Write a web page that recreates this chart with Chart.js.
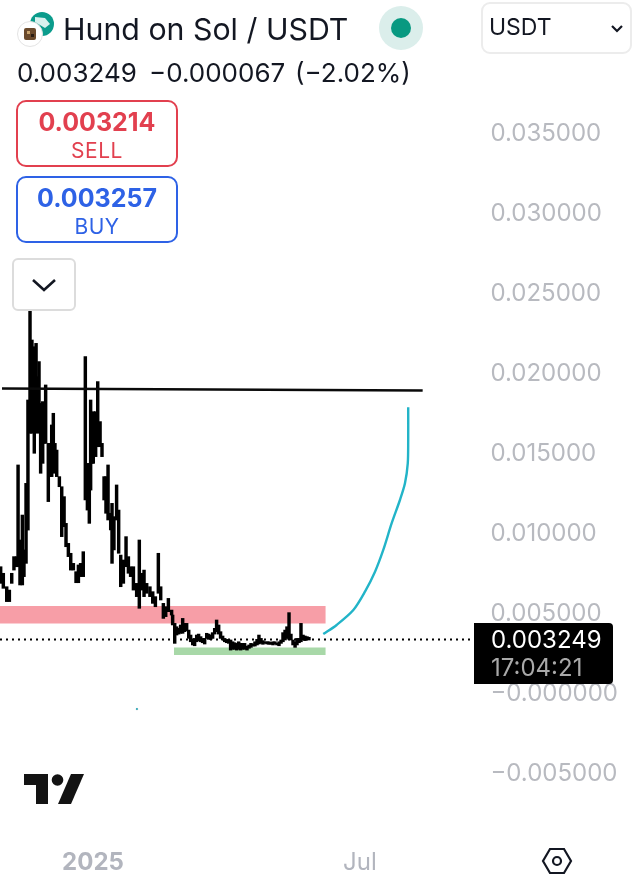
<!DOCTYPE html>
<html>
<head>
<meta charset="utf-8">
<script src="https://cdn.jsdelivr.net/npm/chart.js@4/dist/chart.umd.min.js"></script>
<style>
html,body{margin:0;padding:0;background:#fff;width:640px;height:876px;overflow:hidden}
body{position:relative;font-family:Inter,"Liberation Sans",sans-serif;color:#131722}
canvas{position:absolute;left:0;top:0}
.a{position:absolute;white-space:nowrap}
.tb{position:absolute;left:16px;width:158px;height:63px;border:2px solid;border-radius:10px;text-align:center;background:#fff}
.tb b{position:absolute;left:0;right:0;top:5px;font-size:25px;font-weight:700;line-height:30px}
.tb span{position:absolute;left:0;right:0;top:36px;font-size:21px;line-height:26px;letter-spacing:.5px}
</style>
</head>
<body>
<canvas id="c" width="640" height="876"></canvas>

<svg class="a" style="left:16px;top:8px" width="44" height="40" viewBox="0 0 44 40">
  <circle cx="26" cy="16" r="12" fill="#0b9c8c"/>
  <path d="M19 9l10 1 5 6-5 4-10-6z" fill="#d8f1ee"/>
  <circle cx="14" cy="26" r="12.5" fill="#fff" stroke="#e3e3e3"/>
  <rect x="8" y="20" width="12" height="12" rx="2" fill="#6b4a2c"/>
  <rect x="11" y="23" width="3" height="3" fill="#caa46f"/><rect x="15" y="26" width="3" height="3" fill="#2a1c12"/>
</svg>
<div class="a" style="left:63px;top:11px;font-size:30.3px;line-height:36px;" id="title">Hund on Sol / USDT</div>
<svg class="a" style="left:379px;top:6px" width="44" height="44"><circle cx="22" cy="22" r="22" fill="#dbeeeb"/><circle cx="22" cy="22" r="10" fill="#089981"/></svg>
<div class="a" style="left:17px;top:58px;font-size:26px;line-height:30px;">0.003249</div>
<div class="a" style="left:149px;top:58px;font-size:26px;line-height:30px;">−0.000067</div>
<div class="a" style="left:295px;top:58px;font-size:26px;line-height:30px;">(−2.02%)</div>

<div class="tb" style="top:100px;border-color:#e2404f;color:#e2404f"><b>0.003214</b><span>SELL</span></div>
<div class="tb" style="top:176px;border-color:#2e62e6;color:#2e62e6"><b>0.003257</b><span>BUY</span></div>

<div class="a" style="left:12px;top:258px;width:60px;height:49px;border:2px solid #dcdcdc;border-radius:6px;background:rgba(255,255,255,.72)"></div>
<svg class="a" style="left:31px;top:277px" width="26" height="16"><path d="M2 3l11 10L24 3" fill="none" stroke="#131722" stroke-width="2.6"/></svg>

<div class="a" style="left:481px;top:2px;width:147px;height:48px;border:2px solid #ececec;border-radius:9px"></div>
<div class="a" style="left:489px;top:12px;font-size:23px;line-height:30px;">USDT</div>
<svg class="a" style="left:610px;top:24px" width="14" height="10"><path d="M2 2l5 5 5-5" fill="none" stroke="#131722" stroke-width="2.2"/></svg>

<div class="a" style="left:474px;top:623px;width:139px;height:61px;background:#000;border-radius:0 4px 4px 0"></div>
<div class="a" style="left:491px;top:625px;font-size:24px;line-height:30px;color:#fff">0.003249</div>
<div class="a" style="left:491px;top:653px;font-size:24px;line-height:30px;color:#a9a9a9">17:04:21</div>

<svg class="a" style="left:24px;top:774px" width="60" height="30" viewBox="0 0 60 30">
  <path d="M0 0h24v30H12V11H0z" fill="#131313"/><circle cx="33.5" cy="6" r="5.8" fill="#131313"/><path d="M34 30L47 0h13L47 30z" fill="#131313"/>
</svg>
<svg class="a" style="left:541px;top:847px" width="32" height="28" viewBox="0 0 32 28">
  <path d="M9 2h14l7 12-7 12H9L2 14z" fill="none" stroke="#131722" stroke-width="2.2"/><circle cx="16" cy="14" r="4" fill="none" stroke="#131722" stroke-width="2.2"/>
</svg>

<script>
const priceTicks = [-0.005, 0, 0.005, 0.01, 0.015, 0.02, 0.025, 0.03, 0.035];
const timeTicks = [0, 181];
const timeLabels = {0: '2025', 181: 'Jul'};

// days since 1 Jan 2025 for each bar
const days = [-62.6,-60.8,-58.5,-56.7,-55.1,-53.6,-51.8,-50.8,-49.5,-47.9,-46.8,-45.4,-44.1,-42.7,-41.4,-39.8,-38.6,-37.7,-36.6,-35.5,-34.1,-33.2,-32.1,-30.3,-29.2,-28,-26.9,-25.8,-24.6,-22.8,-21.2,-19.6,-18.3,-16.7,-15.1,-13.3,-11.5,-9.9,-8.4,-6.6,-5.2,-3.8,-2.5,-1.6,-0.7,0.2,1.8,3.2,4.8,6.1,7.5,8.8,10.2,12,12.9,14.2,16,17.4,18.8,20.6,22.4,24,25.5,27.4,29.6,31.4,33,34.6,36.4,38.6,40.5,42.3,44.3,45.9,47.7,49.3,51.1,53.3,
54,55.4,56.7,58.1,59.4,60.8,62.1,63.5,64.9,66.2,67.6,68.9,70.3,71.6,73,74.3,75.7,77.1,78.4,79.8,81.1,82.5,83.8,85.2,86.5,87.9,89.3,90.6,92,93.3,94.7,96,97.4,98.8,100.1,101.5,102.8,
104.4,105.8,107.1,108.5,109.8,111.2,112.5,113.9,115.2,116.6,118,119.3,120.7,122,123.4,124.7,126.1,127.5,128.8,130.2,131.5,132.9,134.2,135.6,137,138.3,139.7,141,142.4,143.7,145.1,146.4];
const highs = [0.00780,0.00739,0.00655,0.00634,0.00739,0.00843,0.00843,0.01416,0.00947,0.01103,0.00885,0.01301,0.01822,0.02384,0.02197,0.02155,0.02176,0.01968,0.02062,0.01801,0.01812,0.01780,0.01916,0.01551,0.01551,0.01666,0.01739,0.01551,0.01509,0.01343,0.01280,0.01218,0.01051,0.00926,0.00864,0.00801,0.00749,0.00791,0.00801,0.00874,0.02093,0.01426,0.01259,0.01822,0.01739,0.01749,0.01749,0.01937,0.01687,0.01551,0.01343,0.01343,0.01416,0.01114,0.01176,0.01093,0.01291,0.01134,0.00853,0.00822,0.00968,0.00843,0.00780,0.00780,0.00676,0.00947,0.00739,0.00759,0.00676,0.00655,0.00624,0.00593,0.00864,0.00655,0.00551,0.00530,0.00582,0.00509,
0.00478,0.00426,0.00405,0.00395,0.00416,0.00457,0.00426,0.00426,0.00384,0.00353,0.00326,0.00332,0.00353,0.00359,0.00343,0.00332,0.00332,0.00364,0.00359,0.00353,0.00368,0.00395,0.00447,0.00416,0.00374,0.00347,0.00332,0.00326,0.00322,0.00322,0.00311,0.00305,0.00301,0.00311,0.00301,0.00301,0.00301,
0.00284,0.00291,0.00301,0.00297,0.00311,0.00326,0.00353,0.00332,0.00318,0.00311,0.00311,0.00311,0.00307,0.00311,0.00311,0.00301,0.00311,0.00322,0.00368,0.00384,0.00405,0.00493,0.00359,0.00322,0.00311,0.00332,0.00332,0.00426,0.00353,0.00347,0.00343,0.00339];
const lows = [0.00676,0.00645,0.00562,0.00562,0.00676,0.00759,0.00780,0.00780,0.00666,0.00666,0.00718,0.00801,0.01009,0.01614,0.01614,0.01489,0.01676,0.01614,0.01676,0.01364,0.01426,0.01551,0.01551,0.01187,0.01343,0.01343,0.01364,0.01384,0.01343,0.01280,0.00968,0.01030,0.00905,0.00843,0.00759,0.00759,0.00680,0.00680,0.00718,0.00718,0.01197,0.01134,0.01051,0.01259,0.01426,0.01426,0.01468,0.01530,0.01530,0.01468,0.01197,0.01114,0.01072,0.01010,0.00801,0.00885,0.01072,0.00864,0.00655,0.00676,0.00780,0.00739,0.00718,0.00634,0.00593,0.00520,0.00634,0.00593,0.00614,0.00593,0.00551,0.00530,0.00614,0.00572,0.00457,0.00468,0.00499,0.00478,
0.00416,0.00301,0.00353,0.00359,0.00364,0.00364,0.00374,0.00380,0.00332,0.00311,0.00291,0.00286,0.00311,0.00318,0.00311,0.00305,0.00297,0.00332,0.00326,0.00326,0.00332,0.00359,0.00374,0.00359,0.00332,0.00322,0.00311,0.00305,0.00301,0.00259,0.00264,0.00264,0.00259,0.00264,0.00259,0.00264,0.00264,
0.00259,0.00270,0.00276,0.00284,0.00284,0.00291,0.00297,0.00301,0.00295,0.00301,0.00297,0.00295,0.00295,0.00291,0.00297,0.00291,0.00286,0.00301,0.00311,0.00322,0.00332,0.00326,0.00322,0.00291,0.00276,0.00291,0.00305,0.00311,0.00322,0.00318,0.00326,0.00322];

const resistanceX = [-63.05, 157.8];
const resistanceTop = 0.005344;
const resistanceBottom = 0.00425;
const supportX = [54.9, 157.8];
const supportTop = 0.00275;
const supportBottom = 0.00228;
const trendX = [-61.7, 223.5];
const trendY = [0.01894, 0.01881];
const forecastX = [156.1,165.2,176.5,184.4,191.2,196.8,202.5,208.1,211.5,213.4,213.7,213.7];
const forecastY = [0.00359,0.00416,0.00509,0.00624,0.00749,0.00885,0.01052,0.01197,0.01301,0.01426,0.01572,0.01777];
const lastPrice = 0.003249;
const lastPriceX = [-63.05, 258.3];
const markerX = [29.8];
const markerY = [-0.0011];

const xy = (xs, ys) => xs.map((x, i) => ({x, y: ys[i]}));
const flat = (xs, v) => xs.map(x => ({x, y: v}));
const noPad = s => {s.paddingTop=0; s.paddingBottom=0; s.paddingLeft=0; s.paddingRight=0;};

new Chart(document.getElementById('c'), {
  data: {
    datasets: [
      {type:'line', order:5, data:flat(resistanceX,resistanceTop), borderWidth:0, pointRadius:0,
       backgroundColor:'#f79ea7', fill:{target:{value:resistanceBottom}}},
      {type:'line', order:5, data:flat(supportX,supportTop), borderWidth:0, pointRadius:0,
       backgroundColor:'#a8d8a8', fill:{target:{value:supportBottom}}},
      {type:'line', order:3, data:flat(lastPriceX,lastPrice), borderColor:'#000', borderWidth:2, borderDash:[2,4], pointRadius:0},
      {type:'bar', order:2, data:days.map((d,i)=>({x:d,y:[lows[i],highs[i]]})), backgroundColor:'#000', barThickness:2.8, borderSkipped:false},
      {type:'line', order:1, data:xy(trendX,trendY), borderColor:'#0a0a0a', borderWidth:2.5, pointRadius:0},
      {type:'line', order:1, data:xy(forecastX,forecastY), borderColor:'#22b4c8', borderWidth:2.4, pointRadius:0, tension:0.3},
      {type:'scatter', order:1, data:xy(markerX,markerY), backgroundColor:'#22b4c8', pointRadius:1}
    ]
  },
  options: {
    responsive:false, animation:false,
    layout:{padding:0, autoPadding:false},
    plugins:{legend:{display:false}, tooltip:{enabled:false}, title:{display:false}},
    scales:{
      x:{type:'linear', position:'bottom', min:-63.05, max:370.85, offset:false,
         grid:{display:false, drawTicks:false}, border:{display:false},
         afterFit:s=>{s.height=40; noPad(s);},
         afterBuildTicks:s=>{s.ticks=timeTicks.map(v=>({value:v}))},
         ticks:{autoSkip:false, maxRotation:0, padding:12, color:'#b2b5be',
           font:c=>({family:'Inter', size:24, weight:c.tick && c.tick.value===0?'700':'400'}),
           callback:v=>timeLabels[v]||''}},
      y:{type:'linear', position:'right', min:-0.00903, max:0.04322,
         grid:{display:false, drawTicks:false}, border:{display:false},
         afterFit:s=>{s.width=0; noPad(s);},
         afterBuildTicks:s=>{s.ticks=priceTicks.map(v=>({value:v}))},
         ticks:{mirror:true, crossAlign:'far', autoSkip:false, padding:-22, labelOffset:2, color:'#b8bac0', font:{family:'Inter', size:24},
           callback:v=>(v<0||v===0?'−':'')+Math.abs(v).toFixed(6)}}
    }
  }
});
</script>
</body>
</html>
